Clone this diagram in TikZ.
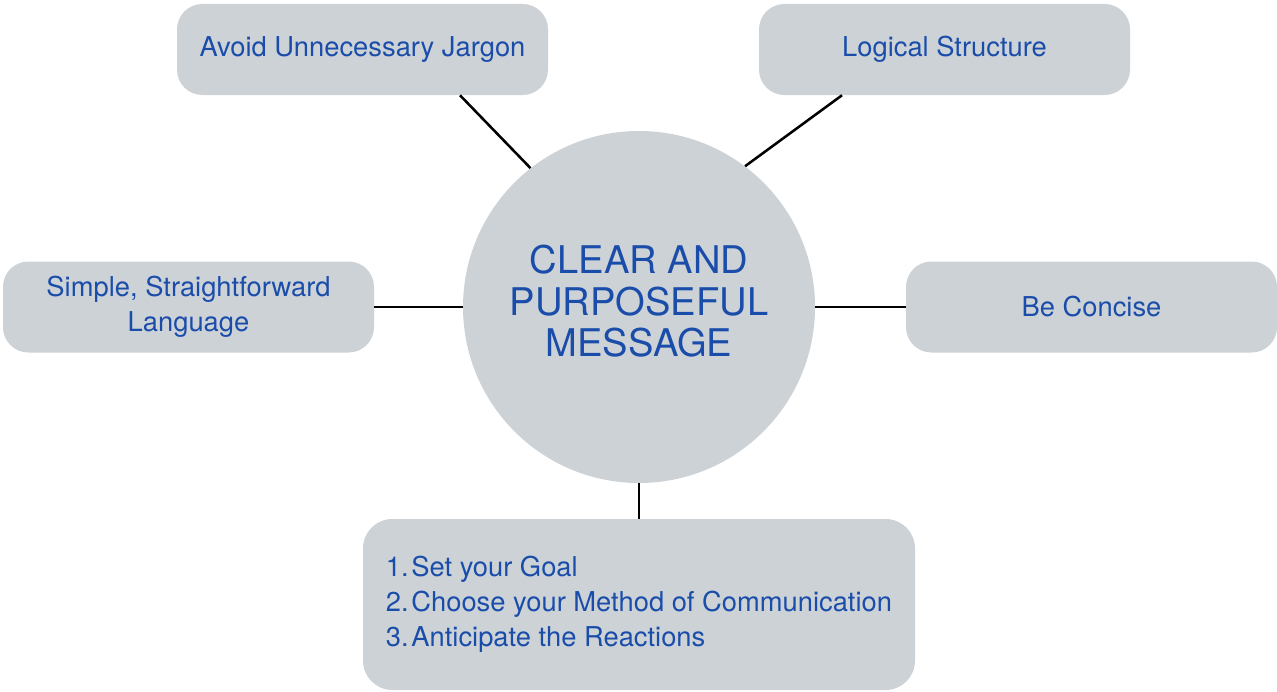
\documentclass[tikz,border=0pt]{standalone}
\usepackage{fontspec}
\setmainfont{TeX Gyre Heros}
\definecolor{boxfill}{HTML}{CDD2D7}
\definecolor{boxtext}{HTML}{1A4DAA}
\begin{document}
\begin{tikzpicture}[x=0.75pt,y=-0.75pt,
  topic/.style={draw=none,fill=boxfill,rounded corners=19pt,
    minimum width=278.25pt,minimum height=68.25pt,align=center,
    text=boxtext,font=\fontsize{20.5}{26}\selectfont,inner sep=0pt},
  hub/.style={circle,fill=boxfill,minimum size=264pt,inner sep=0pt,
    align=center,text=boxtext,font=\fontsize{28.6}{31}\selectfont},
  link/.style={line width=1.9pt,black}]
\useasboundingbox (0,0) rectangle (1277,692);

% central idea
\node[hub] (hub) at (639,307)
  {\raisebox{3.5pt}{\begin{tabular}{@{}c@{}}CLEAR AND\\PURPOSEFUL\\MESSAGE\end{tabular}}};

% surrounding topics
\node[topic] (jargon) at (362.5,49.5) {Avoid Unnecessary Jargon};
\node[topic] (logic) at (944.5,49.5) {Logical Structure};
\node[topic] (simple) at (188.5,307) {Simple, Straightforward\\Language};
\node[topic] (concise) at (1091.5,307) {Be Concise};
\node[topic,minimum width=414pt,minimum height=128.25pt,rounded corners=22pt,
  align=left] (steps) at (639,604.5)
  {\begin{tabular}{@{}l@{\hspace{2pt}}l@{}}
   1. & Set your Goal\\
   2. & Choose your Method of Communication\\
   3. & Anticipate the Reactions
   \end{tabular}};

% connectors
\draw[link] (jargon.south) ++(97.5,0) -- (hub.128);
\draw[link] (logic.south) ++(-102.5,0) -- (hub.53);
\draw[link] (simple.east) -- (hub.west);
\draw[link] (hub.east) -- (concise.west);
\draw[link] (hub.south) -- (steps.north);
\end{tikzpicture}
\end{document}
